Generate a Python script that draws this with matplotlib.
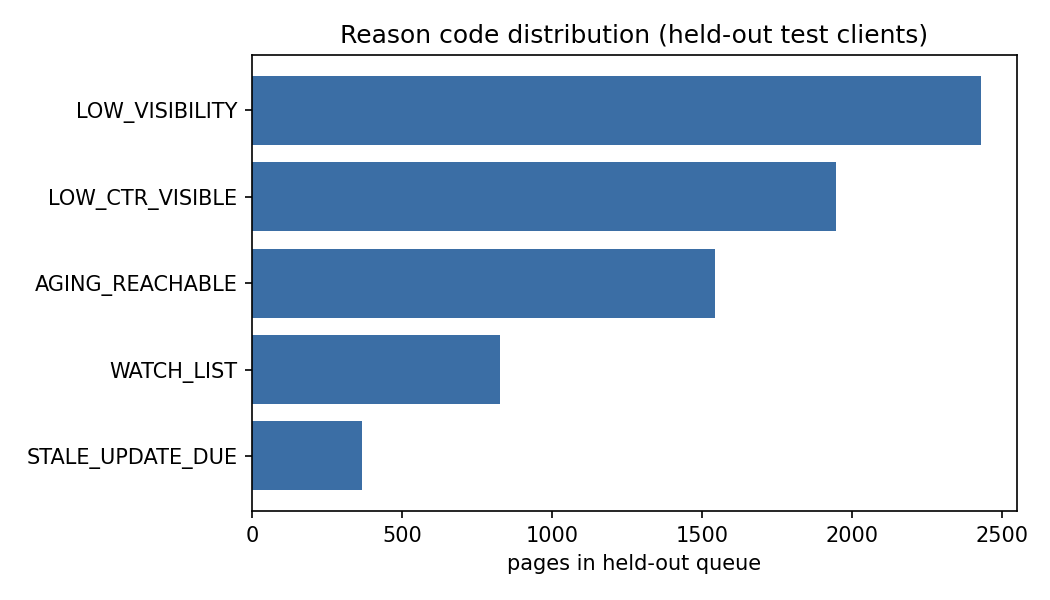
import matplotlib
matplotlib.use('Agg')
import matplotlib.pyplot as plt

reasons = ['LOW_VISIBILITY', 'LOW_CTR_VISIBLE', 'AGING_REACHABLE',
        'WATCH_LIST', 'STALE_UPDATE_DUE']
counts = [2429, 1948, 1545, 828, 367]

fig, ax = plt.subplots(figsize=(7, 4), dpi=150)
ax.barh(reasons, counts, color='#3b6ea5')
ax.invert_yaxis()

ax.set_title('Reason code distribution (held-out test clients)')
ax.set_xlabel('pages in held-out queue')

fig.subplots_adjust(left=0.24, right=0.9686, top=0.9083, bottom=0.148)
fig.savefig('out.png')
